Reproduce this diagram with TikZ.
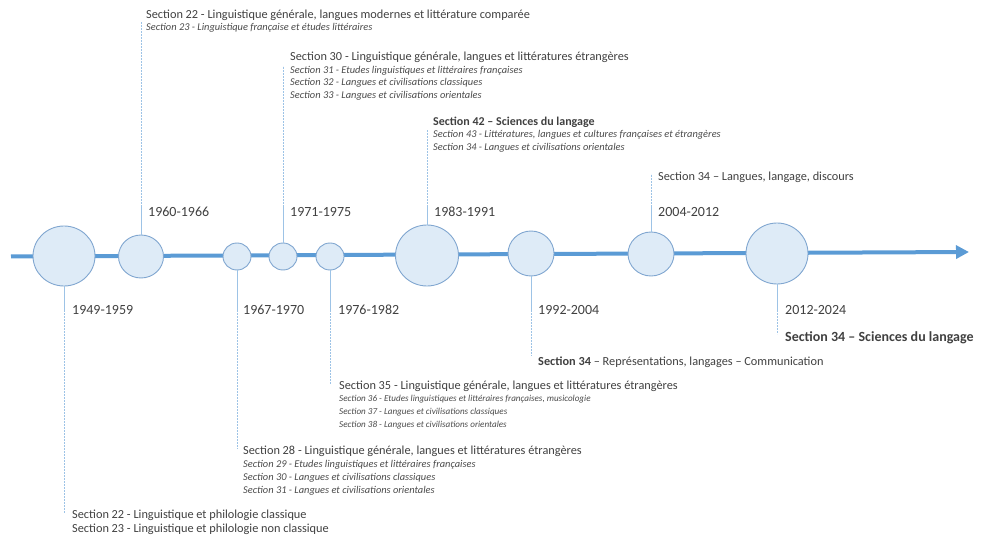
\documentclass[tikz,border=0pt]{standalone}
\usepackage{fontspec}
\setmainfont{Carlito}
\usetikzlibrary{arrows.meta,shapes.geometric}
\definecolor{axisblue}{HTML}{5B9BD5}
\definecolor{circfill}{HTML}{DEEBF7}
\definecolor{circline}{HTML}{80A6D0}
\definecolor{linkblue}{HTML}{9DC3E6}
\definecolor{txt}{HTML}{404040}
\definecolor{subtxt}{HTML}{4A4A4A}
\begin{document}
\begin{tikzpicture}[x=1pt,y=-1pt,
  dotnode/.style={ellipse, draw=circline, fill=circfill, line width=0.9pt, inner sep=0pt},
  big/.style={dotnode, minimum width=62pt, minimum height=61pt},
  mid/.style={dotnode, minimum width=46pt, minimum height=44pt},
  small/.style={dotnode, minimum width=28pt, minimum height=27pt},
  year/.style={anchor=west, inner sep=0pt, text=txt, font=\fontsize{14}{16}\selectfont},
  sectitle/.style={anchor=west, inner sep=0pt, text=txt, font=\fontsize{12.3}{14}\selectfont},
  secsub/.style={anchor=west, inner sep=0pt, text=subtxt, font=\fontsize{10.4}{12}\selectfont\itshape},
  secsubsmall/.style={secsub, font=\fontsize{9.1}{10}\selectfont\itshape},
  secbig/.style={anchor=west, inner sep=0pt, text=txt, font=\fontsize{14}{16}\selectfont\bfseries},
  link/.style={draw=linkblue, line width=0.8pt},
  linkdot/.style={draw=linkblue, line width=0.9pt, dash pattern=on 1.6pt off 1.4pt},
  axisline/.style={draw=axisblue, line width=4pt, -{Triangle[length=13pt,width=13pt]}}
]
\useasboundingbox (0,0) rectangle (982,537);

% axis
\coordinate (axstart) at (11,256.5);
\coordinate (axend) at (969,252);
\draw[axisline] (axstart) -- (axend);

% circles
\node[big,   minimum width=62pt, minimum height=60pt] (c1) at (64,256) {};
\node[dotnode, minimum width=45pt, minimum height=43pt] (c2) at (141,256.5) {};
\node[small] (c3) at (237,256.5) {};
\node[small] (c4) at (283,256.5) {};
\node[small] (c5) at (330,256.5) {};
\node[big,   minimum width=63pt, minimum height=61pt] (c6) at (427,255.5) {};
\node[mid,   minimum height=45pt] (c7) at (531,253.5) {};
\node[mid] (c8) at (651,254) {};
\node[big] (c9) at (777,253.5) {};

% connector break points and ends
\coordinate (c1a) at (64,310);   \coordinate (c1b) at (64,513);
\coordinate (c2a) at (141,207);  \coordinate (c2b) at (141,22);
\coordinate (c3a) at (237,310);  \coordinate (c3b) at (237,449);
\coordinate (c4a) at (283,207);  \coordinate (c4b) at (283,66);
\coordinate (c5a) at (330,310);  \coordinate (c5b) at (330,384);
\coordinate (c6a) at (427,207);  \coordinate (c6b) at (427,130);
\coordinate (c7a) at (531,310);  \coordinate (c7b) at (531,356);
\coordinate (c8a) at (651,207);  \coordinate (c8b) at (651,174);
\coordinate (c9a) at (777,310);  \coordinate (c9b) at (777,334);

\foreach \n/\s in {c1/south,c2/north,c3/south,c4/north,c5/south,c6/north,c7/south,c8/north,c9/south}{
  \draw[link] (\n.\s) -- (\n a);
  \draw[linkdot] (\n a) -- (\n b);
}

% year labels
\node[year] (y1) at (72,310) {1949-1959};
\node[year] (y2) at (148,212) {1960-1966};
\node[year] (y3) at (243,310) {1967-1970};
\node[year] (y4) at (290,212) {1971-1975};
\node[year] (y5) at (338,310) {1976-1982};
\node[year] (y6) at (434,212) {1983-1991};
\node[year] (y7) at (538,310) {1992-2004};
\node[year] (y8) at (658,212) {2004-2012};
\node[year] (y9) at (785,310) {2012-2024};

% 1960-1966
\node[sectitle] (t2) at (146,15) {Section 22 - Linguistique générale, langues modernes et littérature comparée};
\node[secsub] (t2a) at (146,28) {Section 23 - Linguistique française et études littéraires};

% 1971-1975
\node[sectitle] (t4) at (290,57) {Section 30 - Linguistique générale, langues et littératures étrangères};
\node[secsub] (t4a) at (290,70.5) {Section 31 - Etudes linguistiques et littéraires françaises};
\node[secsub] (t4b) at (290,83) {Section 32 - Langues et civilisations classiques};
\node[secsub] (t4c) at (290,95.5) {Section 33 - Langues et civilisations orientales};

% 1983-1991
\node[sectitle, font=\fontsize{12}{14}\selectfont\bfseries] (t6) at (433,122) {Section 42 – Sciences du langage};
\node[secsub] (t6a) at (433,135) {Section 43 - Littératures, langues et cultures françaises et étrangères};
\node[secsub] (t6b) at (433,148) {Section 34 - Langues et civilisations orientales};

% 2004-2012
\node[sectitle] (t8) at (658,177) {Section 34 – Langues, langage, discours};

% 2012-2024
\node[secbig] (t9) at (785,338) {Section 34 – Sciences du langage};

% 1992-2004
\node[sectitle] (t7) at (538,362) {\textbf{Section 34} – Représentations, langages – Communication};

% 1976-1982
\node[sectitle] (t5) at (339,386) {Section 35 - Linguistique générale, langues et littératures étrangères};
\node[secsubsmall] (t5a) at (339,399.5) {Section 36 - Etudes linguistiques et littéraires françaises, musicologie};
\node[secsubsmall] (t5b) at (339,412.5) {Section 37 - Langues et civilisations classiques};
\node[secsubsmall] (t5c) at (339,425.5) {Section 38 - Langues et civilisations orientales};

% 1967-1970
\node[sectitle] (t3) at (243,451) {Section 28 - Linguistique générale, langues et littératures étrangères};
\node[secsub] (t3a) at (243,464.5) {Section 29 - Etudes linguistiques et littéraires françaises};
\node[secsub] (t3b) at (243,477.5) {Section 30 - Langues et civilisations classiques};
\node[secsub] (t3c) at (243,490.5) {Section 31 - Langues et civilisations orientales};

% 1949-1959
\node[sectitle] (t1) at (72,515) {Section 22 - Linguistique et philologie classique};
\node[sectitle] (t1a) at (72,529) {Section 23 - Linguistique et philologie non classique};
\end{tikzpicture}
\end{document}
